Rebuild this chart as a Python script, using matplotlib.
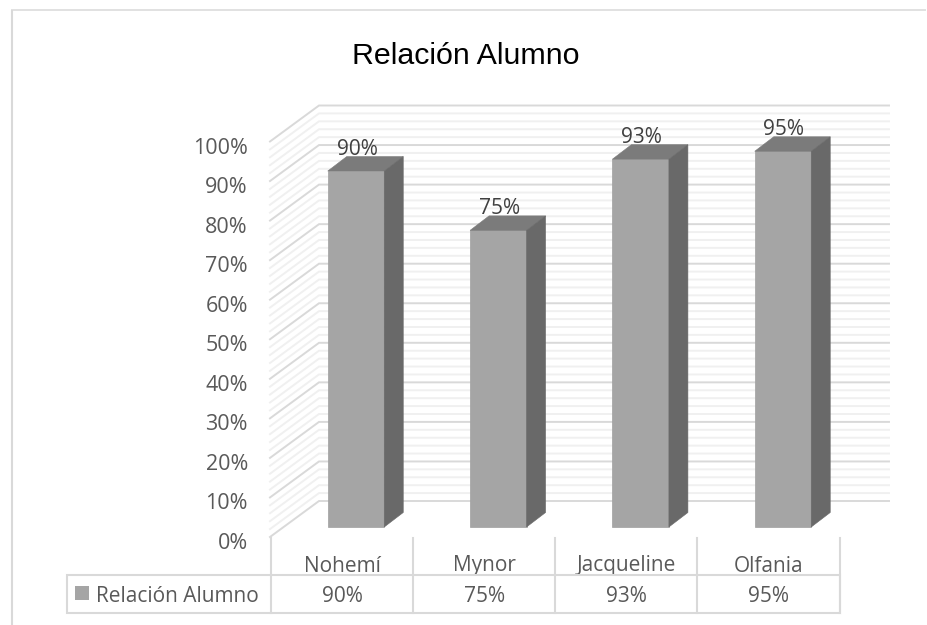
import matplotlib
matplotlib.use("Agg")
import matplotlib.pyplot as plt
from matplotlib.patches import Polygon, Rectangle

categories = ["Nohemí", "Mynor", "Jacqueline", "Olfania"]
values = [90, 75, 93, 95]
value_labels = ["90%", "75%", "93%", "95%"]
y_ticks = [0, 10, 20, 30, 40, 50, 60, 70, 80, 90, 100]
y_tick_labels = [f"{v}%" for v in y_ticks]
title = "Relación Alumno"
series_name = "Relación Alumno"

W, H = 927, 625
FONT = "Open Sans"
TXT = "#595959"
GRID = "#d9d9d9"
GRID2 = "#f0f0f0"

# pixel geometry of the plot's front plane
X0, DX = 356.0, 142.33   # centre of first category, spacing
Y0, DY = 527.0, 3.955    # pixel of 0 %, pixels per percent

fig = plt.figure(figsize=(W / 100, H / 100), dpi=100)
ax = fig.add_axes([0, 0, 1, 1])
ax.set_xlim((0 - X0) / DX, (W - X0) / DX)
ax.set_ylim((Y0 - H) / DY, Y0 / DY)
ax.axis("off")

def px(x):
    return (x - X0) / DX
def py(y):
    return (Y0 - y) / DY
ddx = lambda d: d / DX
ddy = lambda d: d / DY

# chart frame
ax.plot([px(12), px(12)], [py(625), py(9.5)], color=GRID, lw=1.5, solid_capstyle="butt", zorder=1)
ax.plot([px(11), px(926)], [py(9.5), py(9.5)], color=GRID, lw=1.1, solid_capstyle="butt", zorder=1)

# walls: gridlines; left wall runs from front (x 270, 0 % at y 537) to back (x 319, y 501)
lx0, lx1, rx = px(270), px(319), px(889)
base_front = py(537)
base_back = py(501)
for v in range(0, 101, 2):
    major = v % 10 == 0
    col = GRID if major else GRID2
    z = 3 if major else 2
    ax.plot([lx0, lx1, rx], [base_front + v, base_back + v, base_back + v], color=col, lw=1.4, zorder=z, solid_joinstyle="miter")

# bars
bar_w = 56.5 / DX
off_x, off_y = ddx(19), ddy(14.5)
for i, (v, lab) in enumerate(zip(values, value_labels)):
    ax.bar(i, v, width=bar_w, color="#a5a5a5", edgecolor="#a0a0a0", lw=0.5, zorder=6)
    l, r = i - bar_w / 2, i + bar_w / 2
    ax.add_patch(Polygon([(l, v), (r, v), (r + off_x, v + off_y), (l + off_x, v + off_y)], closed=True, fc="#7b7b7b", ec="#7b7b7b", lw=0.4, zorder=6))
    ax.add_patch(Polygon([(r, 0), (r + off_x, off_y), (r + off_x, v + off_y), (r, v)], closed=True, fc="#696969", ec="#696969", lw=0.4, zorder=6))
    ax.text(i + ddx(1), v + ddy(22), lab, ha="center", va="center", family=FONT, fontsize=15, color="#404040", zorder=7)

# y tick labels
for v, lab in zip(y_ticks, y_tick_labels):
    ax.text(px(248), base_front + v - ddy(6.5), lab, ha="right", va="center", family=FONT, fontsize=15.5, color=TXT, zorder=7)

# title
ax.text(px(466), py(56), title, ha="center", va="center", family="Liberation Sans", fontsize=21.9, color="black")

# data table
seps = [271, 413, 555, 697, 840]
ax.add_patch(Rectangle((px(67), py(613)), px(840) - px(67), py(575) - py(613), fc="none", ec=GRID, lw=1.5, zorder=4))
for s in seps:
    ax.plot([px(s), px(s)], [py(538), py(613)], color=GRID, lw=1.5, zorder=4)
for i, (c, lab) in enumerate(zip(categories, value_labels)):
    ax.text(i - ddx(14), py(566), c, ha="center", va="center", family=FONT, fontsize=15, color=TXT)
    ax.text(i - ddx(14), py(596), lab, ha="center", va="center", family=FONT, fontsize=15, color=TXT)
ax.add_patch(Rectangle((px(75), py(600)), ddx(14), ddy(14), fc="#a5a5a5", ec="none", zorder=5))
ax.text(px(96), py(596), series_name, ha="left", va="center", family=FONT, fontsize=15, color=TXT)

fig.savefig("out.png", dpi=100, facecolor="white")
